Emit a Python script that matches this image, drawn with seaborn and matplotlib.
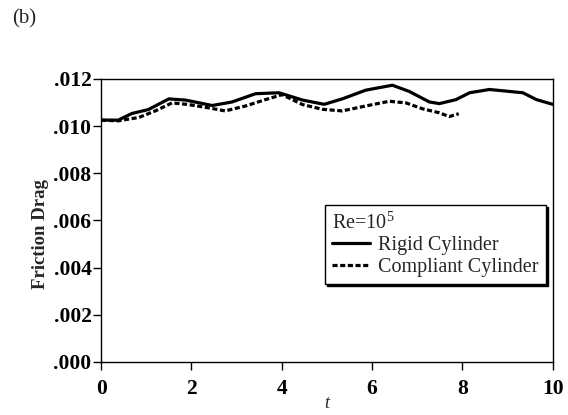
import pandas as pd
import matplotlib
matplotlib.use("Agg")
import matplotlib.pyplot as plt
import seaborn as sns

# values
rigid_t = [0.0, 0.38, 0.68, 1.05, 1.50, 1.87, 2.46, 2.90, 3.42, 3.94, 4.46, 4.94,
           5.34, 5.86, 6.45, 6.82, 7.27, 7.49, 7.86, 8.16, 8.60, 8.97, 9.34, 9.64, 10.0]
rigid_drag = [0.01025, 0.01025, 0.01053, 0.01070, 0.01115, 0.01110, 0.01087, 0.01102,
              0.01137, 0.01141, 0.01110, 0.01092, 0.01115, 0.01152, 0.01173, 0.01147,
              0.01102, 0.01095, 0.01112, 0.01141, 0.01155, 0.01148, 0.01141, 0.01112,
              0.01092]
compliant_t = [0.0, 0.38, 0.83, 1.20, 1.57, 1.94, 2.38, 2.75, 3.20, 3.64, 4.01, 4.46,
               4.90, 5.34, 5.86, 6.38, 6.75, 7.12, 7.49, 7.71, 7.92]
compliant_drag = [0.01025, 0.01022, 0.01036, 0.01064, 0.01098, 0.01091, 0.01077, 0.01064,
                  0.01085, 0.01112, 0.01133, 0.01091, 0.01071, 0.01064, 0.01085, 0.01105,
                  0.01098, 0.01073, 0.01056, 0.01040, 0.01052]
series_names = ["Rigid Cylinder", "Compliant Cylinder"]
xticks = [0, 2, 4, 6, 8, 10]
yticks = [0.000, 0.002, 0.004, 0.006, 0.008, 0.010, 0.012]
ytick_labels = [".000", ".002", ".004", ".006", ".008", ".010", ".012"]

df = pd.concat([
    pd.DataFrame({"t": rigid_t, "drag": rigid_drag, "series": series_names[0]}),
    pd.DataFrame({"t": compliant_t, "drag": compliant_drag, "series": series_names[1]}),
], ignore_index=True)

sns.set_style("ticks")
plt.rcParams["font.family"] = ["Liberation Serif", "DejaVu Serif"]
plt.rcParams["mathtext.fontset"] = "custom"
plt.rcParams["mathtext.rm"] = "Liberation Serif"

fig = plt.figure(figsize=(5.68, 4.15), dpi=100)
ax = fig.add_axes([0.178, 0.128, 0.795, 0.682])

sns.lineplot(data=df, x="t", y="drag", style="series", sort=False,
             dashes={series_names[0]: "", series_names[1]: (1.6, 0.8)},
             color="black", linewidth=2.3, ax=ax)

ax.set_xlim(0, 10)
ax.set_ylim(0, 0.012)
ax.set_xticks(xticks)
ax.set_xticklabels([str(v) for v in xticks])
ax.set_yticks(yticks)
ax.set_yticklabels(ytick_labels)
ax.tick_params(direction="out", length=5.5, width=1, labelsize=15.5, colors="black")
ax.tick_params(axis="x", pad=7)
ax.tick_params(axis="y", pad=1.5)
for lab in ax.get_xticklabels() + ax.get_yticklabels():
    lab.set_fontweight("bold")
for sp in ax.spines.values():
    sp.set_visible(True)
    sp.set_color("black")
    sp.set_linewidth(1.0)

ax.set_xlabel("t", fontsize=13, fontstyle="italic", labelpad=-3)
ax.set_ylabel("Friction Drag", fontsize=13.5, fontweight="bold")
ax.yaxis.set_label_coords(-0.116, 0.452)

handles, labels = ax.get_legend_handles_labels()
leg = ax.legend(handles, labels, title=r"Re=10$^5$", loc="upper left",
                bbox_to_anchor=(0.496, 0.555), frameon=True, fancybox=False,
                shadow={"color": "black", "alpha": 1.0, "ox": 1.5, "oy": -1.5},
                edgecolor="black",
                fontsize=14.5, title_fontsize=14.5, handlelength=1.9,
                handletextpad=0.4, borderpad=0.35, labelspacing=0.12,
                borderaxespad=0)
leg._legend_box.align = "left"
leg.get_frame().set_linewidth(1.0)
for line in leg.get_lines():
    line.set_linewidth(2.3)

fig.text(0.022, 0.978, "(b)", fontsize=15, va="top")

fig.savefig("out.png", dpi=100)
